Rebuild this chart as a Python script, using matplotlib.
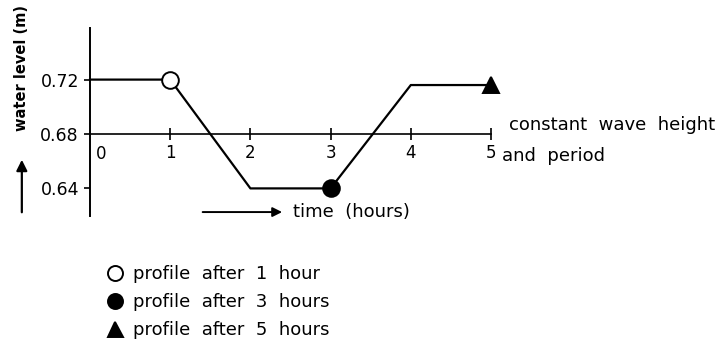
import numpy as np
import matplotlib
matplotlib.use("Agg")
import matplotlib.pyplot as plt

# water level profile (hours, m)
time_h = [0, 1, 2, 3, 4, 5]
level_m = [0.72, 0.72, 0.64, 0.64, 0.716, 0.716]

# marked profiles
mark_t = [1, 3, 5]
mark_lvl = [0.72, 0.64, 0.716]
mark_style = ["o", "o", "^"]
mark_fill = ["white", "black", "black"]
mark_labels = ["profile  after  1  hour", "profile  after  3  hours", "profile  after  5  hours"]

x_ticks = [1, 2, 3, 4, 5]
y_ticks = [0.64, 0.68, 0.72]
y_tick_labels = ["0.64", "0.68", "0.72"]

plt.rcParams["font.family"] = "DejaVu Sans"
plt.rcParams["font.size"] = 13

fig = plt.figure(figsize=(7.19, 3.49), dpi=100)
ax = fig.add_axes([0, 0, 1, 1])
ax.set_facecolor("white")

# pixel-aligned scale: t=0 at x=90px, 80.2 px/hour; 0.68 at y=134px, 1360 px/m
ax.set_xlim(-90 / 80.2, (719 - 90) / 80.2)
ax.set_ylim(0.68 - 215 / 1360, 0.68 + 134 / 1360)

ax.plot(time_h, level_m, color="black", lw=1.6, zorder=2)

handles = []
for t, v, m, fc, lab in zip(mark_t, mark_lvl, mark_style, mark_fill, mark_labels):
    h, = ax.plot(t, v, marker=m, markersize=12, markerfacecolor=fc,
                 markeredgecolor="black", markeredgewidth=1.4, ls="none",
                 label=lab, zorder=3, clip_on=False)
    handles.append(h)

# axes as crossing lines
for s in ["top", "right"]:
    ax.spines[s].set_visible(False)
ax.spines["left"].set_position(("data", 0))
ax.spines["left"].set_bounds(0.62, 0.758)
ax.spines["bottom"].set_position(("data", 0.68))
ax.spines["bottom"].set_bounds(0, 5)
ax.spines["left"].set_linewidth(1.4)
ax.spines["bottom"].set_linewidth(1.2)

ax.set_xticks(x_ticks)
ax.set_xticklabels([str(t) for t in x_ticks])
ax.tick_params(axis="x", direction="inout", length=8, width=1.2, pad=3, labelsize=12)
ax.set_yticks(y_ticks)
ax.set_yticklabels(y_tick_labels)
ax.tick_params(axis="y", direction="out", length=4, width=1.2, pad=4, labelsize=12.5)
ax.text(0.07, 0.672, "0", ha="left", va="top", fontsize=12)

# y label with arrow
ax.text(-0.85, 0.7285, "water level (m)", rotation=90, ha="center", va="center",
        fontweight="bold", fontsize=10.5)
ax.annotate("", xy=(-0.85, 0.6631), xytext=(-0.85, 0.6204),
            arrowprops=dict(arrowstyle="-|>", color="black", lw=1.6,
                            mutation_scale=16))

# time arrow
ax.annotate("", xy=(2.43, 0.6226), xytext=(1.37, 0.6226),
            arrowprops=dict(arrowstyle="-|>", color="black", lw=1.4,
                            mutation_scale=14))
ax.text(2.53, 0.6226, "time  (hours)", ha="left", va="center")

ax.text(5.22, 0.6866, "constant  wave  height", ha="left", va="center")
ax.text(5.14, 0.6638, "and  period", ha="left", va="center")

ax.legend(handles=handles, loc="upper left", bbox_to_anchor=(100 / 719, 1 - 258 / 349),
          frameon=False, handletextpad=0.55, labelspacing=0.55, handlelength=0.9,
          markerscale=0.9, borderaxespad=0)

fig.savefig("out.png", dpi=100, facecolor="white")
